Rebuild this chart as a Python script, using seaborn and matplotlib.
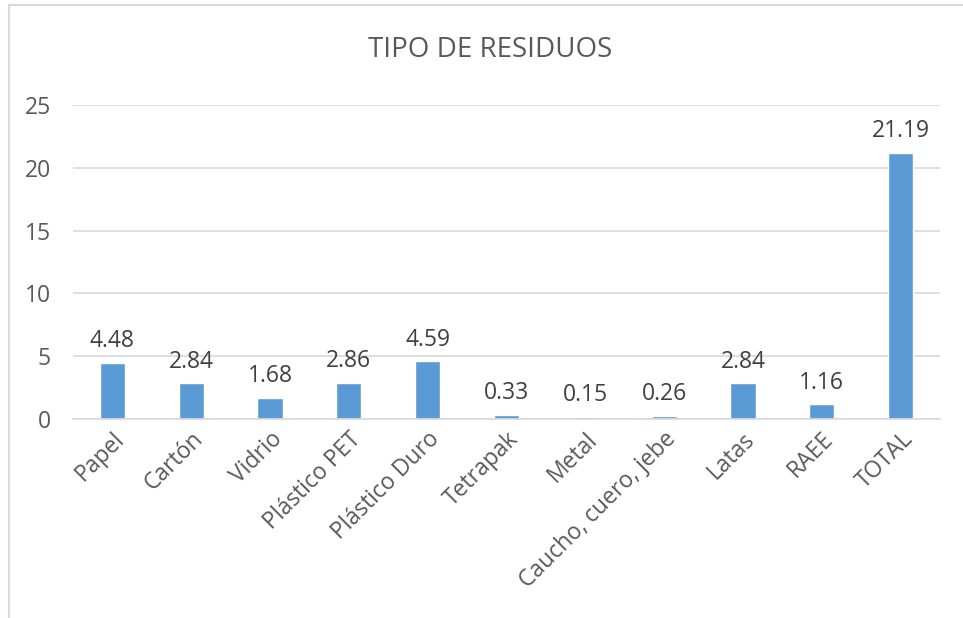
import matplotlib
matplotlib.use("Agg")
import matplotlib.pyplot as plt
import seaborn as sns
import pandas as pd
from matplotlib.patches import Rectangle

categories = ["Papel", "Cartón", "Vidrio", "Plástico PET", "Plástico Duro", "Tetrapak",
              "Metal", "Caucho, cuero, jebe", "Latas", "RAEE", "TOTAL"]
values = [4.48, 2.84, 1.68, 2.86, 4.59, 0.33, 0.15, 0.26, 2.84, 1.16, 21.19]
yticks = [0, 5, 10, 15, 20, 25]
title = "TIPO DE RESIDUOS"

sns.set_theme(style="white")
plt.rcParams['font.family'] = ['Open Sans', 'DejaVu Sans']

df = pd.DataFrame({"cat": categories, "val": values})
W, H = 963, 618
fig = plt.figure(figsize=(W / 100, H / 100), dpi=100)
ax = fig.add_axes([73 / W, 1 - 419 / H, (940 - 73) / W, (419 - 105) / H])

sns.barplot(data=df, x="cat", y="val", color="#5B9BD5", width=0.32, ax=ax, saturation=1)

ax.set_ylim(0, 25)
ax.set_xlim(-0.5, len(categories) - 0.5)
ax.set_yticks(yticks)
ax.set_yticklabels([str(t) for t in yticks], fontsize=16.5, color="#595959")
ax.set_xlabel("")
ax.set_ylabel("")
ax.tick_params(axis="both", length=0)
ax.tick_params(axis="y", pad=16)
ax.set_xticks(range(len(categories)))
ax.set_xticklabels(categories, rotation=45, ha="right", va="top", rotation_mode="anchor",
                   fontsize=16.5, color="#595959")
ax.tick_params(axis="x", pad=6)
ax.yaxis.grid(True, color="#d9d9d9", linewidth=1.2)
ax.set_axisbelow(True)
for s in ["top", "right", "left"]:
    ax.spines[s].set_visible(False)
ax.spines["bottom"].set_color("#d9d9d9")
ax.spines["bottom"].set_linewidth(1.2)

for i, v in enumerate(values):
    ax.annotate(f"{v:.2f}", (i, v), xytext=(0, 7), textcoords="offset points",
                ha="center", va="bottom", fontsize=16.5, color="#404040")

fig.text(490 / W, 1 - 50 / H, title, ha="center", va="center", fontsize=20, color="#595959")

fig.patches.append(Rectangle((9 / W, -0.1), 1.2, 1.1 - 5 / H, transform=fig.transFigure,
                             fill=False, edgecolor="#d9d9d9", linewidth=1.5))

fig.savefig("out.png", dpi=100)
